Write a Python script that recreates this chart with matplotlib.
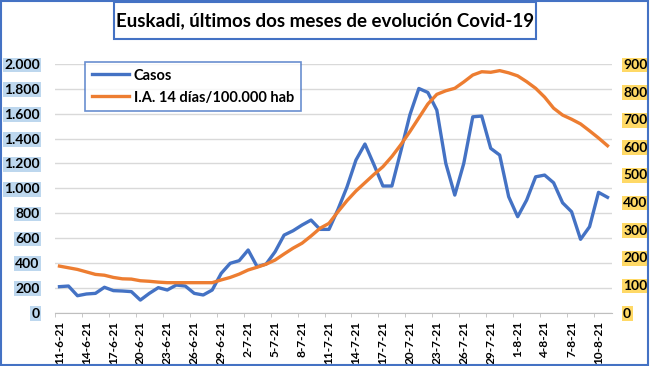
import matplotlib
matplotlib.use("Agg")
import matplotlib.pyplot as plt
from matplotlib.patches import Rectangle
import datetime as dt

# Euskadi: casos diarios y I.A. 14 dias, 11-6-21 .. 11-8-21

start = dt.date(2021, 6, 11)
dates = [start + dt.timedelta(days=i) for i in range(62)]
date_labels = [f"{d.day}-{d.month}-21" for d in dates]

casos = [208, 213, 135, 149, 154, 203, 176, 173, 168, 100,
         154, 200, 181, 221, 213, 154, 141, 181, 315, 396,
         417, 503, 369, 390, 489, 623, 658, 704, 744, 669,
         669, 830, 1010, 1227, 1356, 1190, 1018, 1018, 1300, 1590,
         1803, 1771, 1629, 1200, 945, 1200, 1575, 1581, 1321, 1267,
         932, 771, 905, 1092, 1106, 1044, 883, 811, 589, 690,
         967, 927]

ia14 = [168, 162, 156, 147, 138, 135, 127, 122, 121, 115,
        113, 110, 108, 108, 108, 108, 108, 108, 118, 127,
        139, 154, 164, 175, 190, 212, 233, 251, 277, 305,
        323, 365, 405, 440, 470, 500, 528, 565, 608, 655,
        705, 755, 790, 803, 812, 835, 860, 872, 870, 876,
        868, 857, 836, 812, 780, 740, 715, 700, 683, 658,
        632, 604]

left_ticks = list(range(0, 2001, 200))
left_labels = ["0", "200", "400", "600", "800", "1.000", "1.200",
               "1.400", "1.600", "1.800", "2.000"]
right_ticks = list(range(0, 901, 100))

BLUE = "#4472C4"
ORANGE = "#ED7D31"
FONT = "Lato"

plt.rcParams["font.family"] = [FONT, "DejaVu Sans"]
plt.rcParams["font.weight"] = "bold"

fig = plt.figure(figsize=(6.5, 3.66), dpi=100)
ax1 = fig.add_axes([55/650, 1-312.5/366, 557/650, 248.5/366])
ax2 = ax1.twinx()

x = list(range(len(dates)))
l1, = ax1.plot(x, casos, color=BLUE, lw=2.4, label="Casos", solid_joinstyle="round")
l2, = ax2.plot(x, ia14, color=ORANGE, lw=2.4, label="I.A. 14 días/100.000 hab", solid_joinstyle="round")

ax1.set_xlim(-0.5, len(dates) - 0.5)
ax1.set_ylim(0, 2000)
ax2.set_ylim(0, 900)

for a in (ax1, ax2):
    for s in a.spines.values():
        s.set_visible(False)
ax1.spines["bottom"].set_visible(True)
ax1.spines["bottom"].set_color("#BFBFBF")

ax1.set_yticks(left_ticks)
ax1.set_yticklabels(left_labels)
ax1.grid(axis="y", color="#D9D9D9", lw=1)
ax1.set_axisbelow(True)
ax1.tick_params(axis="y", length=0, pad=11, labelsize=10)
for t in ax1.get_yticklabels():
    t.set_fontweight("bold")
    t.set_bbox(dict(facecolor="#BDD7EE", edgecolor="none", pad=1))

ax2.set_yticks(right_ticks)
ax2.set_yticklabels([str(v) for v in right_ticks])
ax2.tick_params(axis="y", length=0, pad=8, labelsize=10)
for t in ax2.get_yticklabels():
    t.set_fontweight("bold")
    t.set_bbox(dict(facecolor="#FFD966", edgecolor="none", pad=1))

ax1.set_xticks(x[::3])
ax1.set_xticklabels(date_labels[::3], rotation=90, fontsize=8.6, fontweight="bold")
ax1.set_xticks([v - 0.5 for v in x[::3]], minor=True)
ax1.tick_params(axis="x", which="major", length=0, pad=6)
ax1.tick_params(axis="x", which="minor", length=3, color="#BFBFBF")

leg = fig.legend(handles=[l1, l2], loc="upper left",
                 bbox_to_anchor=(85/650, 1-62/366), frameon=True,
                 fancybox=False, handlelength=2.6, fontsize=10.5,
                 labelspacing=0.55, borderpad=0.45, handletextpad=0.3,
                 borderaxespad=0)
leg.get_frame().set_edgecolor(BLUE)
leg.get_frame().set_linewidth(1.2)
for t in leg.get_texts():
    t.set_fontweight("bold")

# title box
fig.patches.append(Rectangle((114/650, 1-39/366), 422/650, 37/366,
                             transform=fig.transFigure, facecolor="white",
                             edgecolor=BLUE, lw=1.5))
fig.text(0.5, 1-21/366, "Euskadi, últimos dos meses de evolución Covid-19",
         ha="center", va="center", fontsize=13.5, fontweight="bold")

# outer border
fig.patches.append(Rectangle((1/650, 1/366), 647/650, 364/366,
                             transform=fig.transFigure, fill=False,
                             edgecolor=BLUE, lw=1.5))

plt.savefig("out.png", dpi=100)
